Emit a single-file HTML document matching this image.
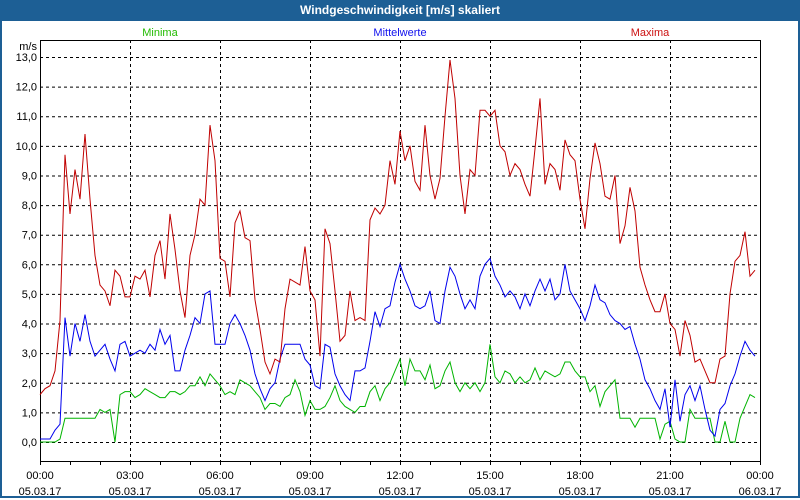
<!DOCTYPE html>
<html><head><meta charset="utf-8"><style>
body{margin:0;width:800px;height:500px;overflow:hidden;background:#fff;font-family:"Liberation Sans",sans-serif}
#win{position:absolute;left:0;top:0;width:796px;height:496px;border:2px solid #1d5f95;border-top:none;background:#fff}
#bar{position:absolute;left:0;top:0;width:800px;height:21px;background:#1d5f95;color:#fff;font-weight:bold;font-size:12px;text-align:center;line-height:21px}
</style></head><body>
<div id="win"></div>
<div id="bar">Windgeschwindigkeit [m/s] skaliert</div>
<svg id="svg" width="800" height="500" style="position:absolute;left:0;top:0"></svg>
<script>
const minVals=[0,0,0,0,0.1,0.8,0.8,0.8,0.8,0.8,0.8,0.8,1.1,1.0,1.1,0.0,1.6,1.7,1.7,1.5,1.6,1.8,1.7,1.6,1.5,1.5,1.7,1.7,1.6,1.7,1.9,1.9,2.2,1.9,2.3,2.1,1.9,1.6,1.7,1.6,2.1,2.0,1.9,1.7,1.5,1.1,1.3,1.3,1.2,1.5,1.6,2.1,1.7,0.9,1.4,1.1,1.1,1.2,1.5,1.9,1.4,1.2,1.1,1.0,1.2,1.2,1.7,1.9,1.4,1.8,2.0,2.4,2.8,1.9,2.8,2.4,2.4,2.1,2.6,1.8,1.9,2.4,2.7,2.0,1.7,2.0,1.8,2.0,1.7,2.0,3.3,2.2,2.0,2.4,2.3,2.0,2.2,2.0,2.1,2.5,2.1,2.4,2.3,2.2,2.3,2.7,2.7,2.4,2.2,2.2,1.7,1.9,1.2,1.7,1.9,2.1,0.8,0.8,0.8,0.5,0.8,0.8,0.8,0.8,0.1,0.6,0.7,0.1,0,0,1.1,0.8,0.8,0.8,0.8,0,0,0.7,0,0,0.8,1.2,1.6,1.5];
const meanVals=[0.1,0.1,0.1,0.4,0.6,4.2,2.9,4.0,3.4,4.3,3.4,2.9,3.1,3.3,2.8,2.4,3.3,3.4,2.9,3.0,3.1,3.0,3.3,3.1,3.8,3.3,3.6,2.4,2.4,3.1,3.6,4.2,4.0,5.0,5.1,3.3,3.3,3.3,4.0,4.3,4.0,3.6,3.1,2.3,1.8,1.4,1.8,2.0,2.8,3.3,3.3,3.3,3.3,2.8,2.6,1.9,1.8,3.3,3.2,2.3,1.9,1.6,1.4,2.4,2.4,2.5,3.4,4.4,3.9,4.5,4.6,5.4,6.0,5.5,5.1,4.6,4.5,4.6,5.1,4.1,4.0,5.1,5.9,5.6,5.0,4.5,4.8,4.5,5.6,6.0,6.2,5.6,5.3,4.9,5.1,4.9,4.5,5.0,4.6,5.1,5.5,5.1,5.5,4.8,5.0,6.0,5.1,4.8,4.5,4.1,4.6,5.3,4.8,4.7,4.3,4.1,4.0,3.8,3.9,3.3,2.8,2.1,1.8,1.4,1.1,1.8,0.5,2.1,0.7,1.6,1.9,1.4,1.9,1.1,0.4,0.2,1.1,1.3,1.9,2.3,2.9,3.4,3.1,2.9];
const maxVals=[1.6,1.8,1.9,2.4,4.1,9.7,7.7,9.2,8.2,10.4,8.2,6.3,5.3,5.1,4.6,5.8,5.6,4.9,4.9,5.6,5.5,5.8,4.9,6.3,6.8,5.5,7.7,6.5,5.1,4.2,6.3,7.0,8.2,8.0,10.7,9.5,6.2,6.1,4.9,7.4,7.8,6.9,6.8,4.8,3.8,2.7,2.3,2.8,2.7,4.5,5.5,5.4,5.3,6.6,5.1,4.8,2.9,7.2,6.7,5.1,3.4,3.6,5.1,4.1,4.2,4.1,7.5,7.9,7.7,8.0,9.5,8.7,10.5,9.5,10.0,8.8,8.5,10.7,9.0,8.2,8.9,11.0,12.9,11.6,9.0,7.7,9.2,9.0,11.2,11.2,11.0,11.2,10.0,9.8,9.0,9.4,9.2,8.7,8.3,9.9,11.6,8.7,9.4,9.2,8.5,10.2,9.7,9.5,8.2,7.2,8.9,10.1,9.4,8.3,8.2,9.0,6.7,7.3,8.6,7.8,5.9,5.3,4.8,4.4,4.4,5.0,4.0,3.8,2.9,4.1,3.6,2.7,2.8,2.4,2.0,2.0,2.8,2.9,5.0,6.1,6.3,7.1,5.6,5.8];
const yTicks=[0,1,2,3,4,5,6,7,8,9,10,11,12,13];
const xTickHours=[0,3,6,9,12,15,18,21,24];
const xTickLabels=["00:00","03:00","06:00","09:00","12:00","15:00","18:00","21:00","00:00"];
const xTickDates=["05.03.17","05.03.17","05.03.17","05.03.17","05.03.17","05.03.17","05.03.17","05.03.17","06.03.17"];
const stepMinutes=10;

const X0=40,X1=760,Y0=442,YTOP=57;
const xs=h=>X0+(X1-X0)*h/24;
const ys=v=>Y0-(Y0-YTOP)*v/13;
const svg=document.getElementById('svg');
const NS='http://www.w3.org/2000/svg';
function mk(t,a){const e=document.createElementNS(NS,t);for(const k in a)e.setAttribute(k,a[k]);svg.appendChild(e);return e;}
// grid
yTicks.forEach(v=>{const l=mk('line',{x1:X0,x2:X1,y1:ys(v)+.5,y2:ys(v)+.5,stroke:'#000','stroke-dasharray':'3,3'});


const t=mk('text',{x:37,y:ys(v)+4,'text-anchor':'end','font-size':'11'});t.textContent=v.toFixed(1).replace('.',',');

});
xTickHours.forEach((h,i)=>{if(h>0&&h<24){const l=mk('line',{x1:xs(h)+.5,x2:xs(h)+.5,y1:40,y2:461,stroke:'#000','stroke-dasharray':'3,3'});

}
const t=mk('text',{x:xs(h),y:479,'text-anchor':'middle','font-size':'11'});t.textContent=xTickLabels[i];


const d=mk('text',{x:xs(h),y:495,'text-anchor':'middle','font-size':'11'});d.textContent=xTickDates[i];

});
for(let h=0;h<=24;h++){const l=mk('line',{x1:xs(h)+.5,x2:xs(h)+.5,y1:461,y2:465,stroke:'#000'});

}
// frame
const f=mk('path',{d:`M40.5 465V40.5H760.5V461.5H40`,fill:'none',stroke:'#000'});


const u=mk('text',{x:37,y:50,'text-anchor':'end','font-size':'11'});u.textContent='m/s';


// series
[[minVals,'#00b400','series-minima'],[meanVals,'#0000ee','series-mittelwerte'],[maxVals,'#c00000','series-maxima']].forEach(([arr,c,n])=>{
const p=mk('polyline',{points:arr.map((v,i)=>xs(i*stepMinutes/60)+','+ys(v)).join(' '),fill:'none',stroke:c,'stroke-width':'1'});

});
// legend
[['Minima',160,'#22bb00','legend-minima'],['Mittelwerte',400,'#1010ee','legend-mittelwerte'],['Maxima',650,'#cc1010','legend-maxima']].forEach(([s,x,c,n])=>{
const t=mk('text',{x:x,y:36,'text-anchor':'middle','font-size':'11',fill:c});t.textContent=s;

});
</script>
</body></html>
